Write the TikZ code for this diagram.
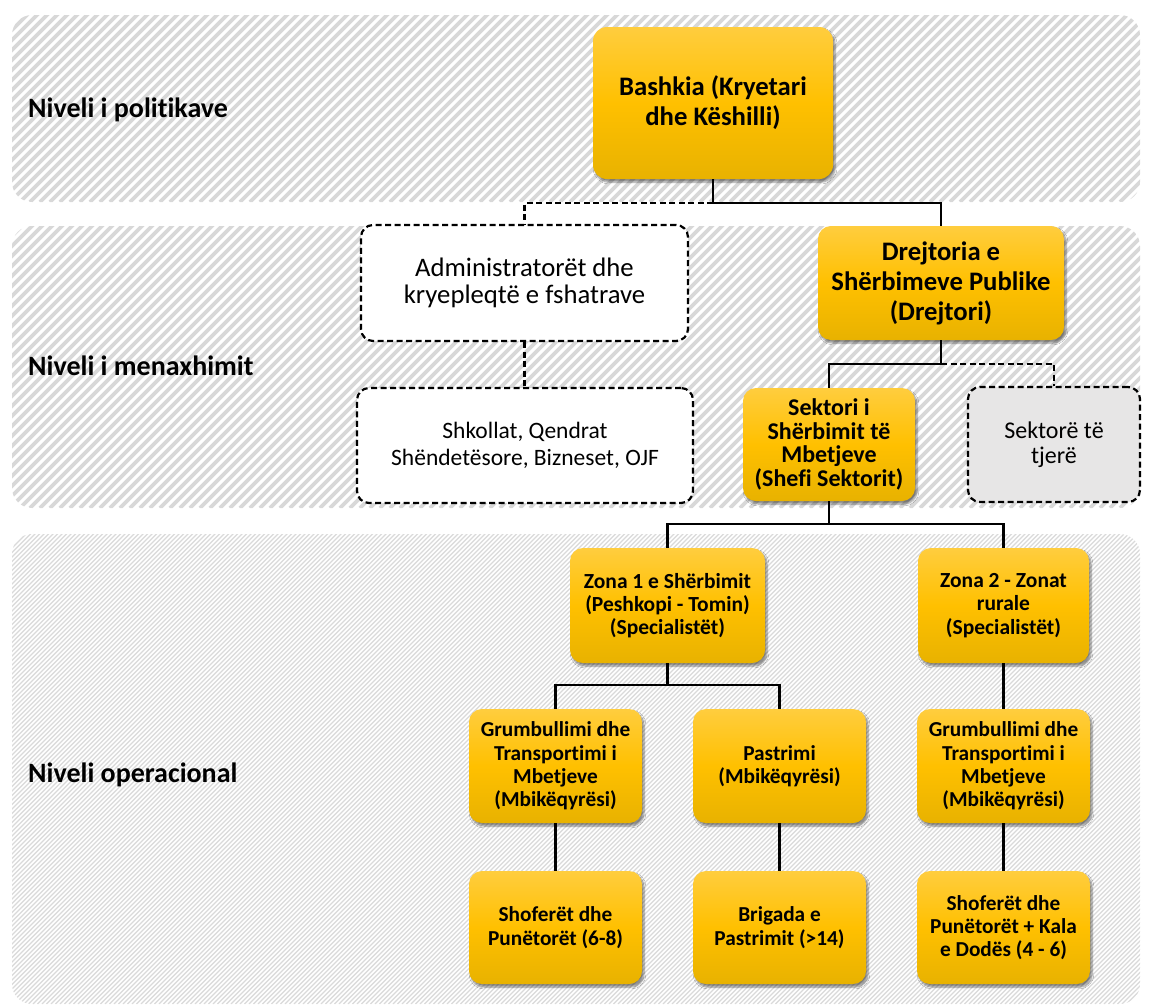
\documentclass[tikz,border=0pt]{standalone}
\usepackage{fontspec}
\setmainfont{Carlito}[Ligatures=NoCommon]
\usetikzlibrary{shadows.blur}
\definecolor{yTop}{RGB}{255,205,62}
\definecolor{yMid}{RGB}{255,192,0}
\definecolor{yBot}{RGB}{232,178,0}
\definecolor{stripeA}{RGB}{216,216,216}
\definecolor{stripeB}{RGB}{218,218,218}
\definecolor{tjereFill}{RGB}{231,230,230}
\tikzset{
  ybox/.style={rounded corners=13pt, inner sep=0pt, align=center, font=\bfseries,
    top color=yTop, bottom color=yBot, middle color=yMid, draw=none,
    blur shadow={shadow xshift=2pt, shadow yshift=-3pt, shadow blur steps=6, shadow opacity=45}},
  dbox/.style={rounded corners=12pt, inner sep=0pt, align=center, fill=white,
    draw=black, line width=2.2pt, dash pattern=on 6pt off 3.5pt},
  conn/.style={draw=black, line width=2.3pt},
  dconn/.style={draw=black, line width=2.3pt, dash pattern=on 6pt off 3.5pt},
  lvl/.style={anchor=base west, inner sep=0pt, font=\bfseries\fontsize{28}{32}\selectfont},
  stripeone/.style={draw=stripeA, line width=3.6pt},
  stripetwo/.style={draw=stripeB, line width=1.3pt},
}
\begin{document}
\begin{tikzpicture}[x=1pt,y=-1pt]
\useasboundingbox (0,0) rectangle (1149,1007);
% level bands
\begin{scope}
  \clip[rounded corners=20pt] (12,15) rectangle (1140,202);
  \fill[white] (12,15) rectangle (1140,202);
  \foreach \i in {-200,-190,...,1150} \draw[stripeone] (\i,202) -- ++(190,-190);
\end{scope}
\begin{scope}
  \clip[rounded corners=20pt] (12,226) rectangle (1140,508);
  \fill[white] (12,226) rectangle (1140,508);
  \foreach \i in {-290,-280,...,1150} \draw[stripeone] (\i,508) -- ++(285,-285);
\end{scope}
\begin{scope}
  \clip[rounded corners=20pt] (12,534) rectangle (1140,1004);
  \fill[white] (12,534) rectangle (1140,1004);
  \foreach \i in {-480,-475.5,...,1150} \draw[stripetwo] (\i,1004) -- ++(472,-472);
\end{scope}
% level labels
\node[lvl] (l1) at (28,117) {Niveli i politikave};
\node[lvl] (l2) at (28,375) {Niveli i menaxhimit};
\node[lvl] (l3) at (28,782) {Niveli operacional};
% boxes
\node[ybox, rounded corners=14pt, minimum width=240pt, minimum height=152pt, font=\bfseries\fontsize{26.7}{30}\selectfont] (bash) at (713,103) {Bashkia (Kryetari\\dhe Këshilli)};
\node[dbox, minimum width=327pt, minimum height=116pt, font=\fontsize{26.7}{26.7}\selectfont] (admin) at (524.5,283) {Administratorët dhe\\kryepleqtë e fshatrave};
\node[dbox, minimum width=336pt, minimum height=115pt, font=\fontsize{23.5}{26.7}\selectfont] (shk) at (525,445.5) {Shkollat, Qendrat\\Shëndetësore, Bizneset, OJF};
\node[ybox, minimum width=246pt, minimum height=114pt, font=\bfseries\fontsize{26.7}{30}\selectfont] (drej) at (941,283) {Drejtoria e\\Shërbimeve Publike\\(Drejtori)};
\node[ybox, minimum width=172pt, minimum height=113pt, font=\bfseries\fontsize{24}{23.5}\selectfont] (sekt) at (829,444.5) {Sektori i\\Shërbimit të\\Mbetjeve\\(Shefi Sektorit)};
\node[dbox, fill=tjereFill, minimum width=172pt, minimum height=115pt, font=\fontsize{24}{25}\selectfont] (tjere) at (1054,444.5) {Sektorë të\\tjerë};
\node[ybox, minimum width=195pt, minimum height=115pt, font=\bfseries\fontsize{21.5}{23.3}\selectfont] (zona1) at (667.5,605.5) {Zona 1 e Shërbimit\\(Peshkopi - Tomin)\\(Specialistët)};
\node[ybox, minimum width=171pt, minimum height=115pt, font=\bfseries\fontsize{21.5}{23.3}\selectfont] (zona2) at (1003.5,605.5) {Zona 2 - Zonat\\rurale\\(Specialistët)};
\node[ybox, minimum width=173pt, minimum height=114pt, font=\bfseries\fontsize{21.3}{23.3}\selectfont] (grum1) at (555.5,766) {Grumbullimi dhe\\Transportimi i\\Mbetjeve\\(Mbikëqyrësi)};
\node[ybox, minimum width=173pt, minimum height=114pt, font=\bfseries\fontsize{21.3}{23.3}\selectfont] (pastr) at (779.5,766) {Pastrimi\\(Mbikëqyrësi)};
\node[ybox, minimum width=173pt, minimum height=114pt, font=\bfseries\fontsize{21.3}{23.3}\selectfont] (grum2) at (1003.5,766) {Grumbullimi dhe\\Transportimi i\\Mbetjeve\\(Mbikëqyrësi)};
\node[ybox, minimum width=173pt, minimum height=113pt, font=\bfseries\fontsize{21.3}{23.3}\selectfont] (shof1) at (555.5,927.5) {Shoferët dhe\\Punëtorët (6-8)};
\node[ybox, minimum width=173pt, minimum height=113pt, font=\bfseries\fontsize{21.3}{23.3}\selectfont] (brig) at (779.5,927.5) {Brigada e\\Pastrimit (>14)};
\node[ybox, minimum width=173pt, minimum height=113pt, font=\bfseries\fontsize{21.3}{23.3}\selectfont] (shof2) at (1003.5,927.5) {Shoferët dhe\\Punëtorët + Kala\\e Dodës (4 - 6)};
% connectors
\draw[conn] (bash.south) -- ++(0,24) -| (drej.north);
\draw[dconn] (bash.south) ++(0,24) -| (admin.north);
\draw[dconn] (admin.south) -- (admin.south |- shk.north);
\draw[conn] (drej.south) -- ++(0,24) -| (sekt.north);
\draw[dconn] (drej.south) ++(0,24) -| (tjere.north);
\draw[conn] (sekt.south) -- ++(0,23) -| (zona1.north);
\draw[conn] (sekt.south) ++(0,23) -| (zona2.north);
\draw[conn] (zona1.south) -- ++(0,22) -| (grum1.north);
\draw[conn] (zona1.south) ++(0,22) -| (pastr.north);
\draw[conn] (zona2.south) -- (grum2.north);
\draw[conn] (grum1.south) -- (shof1.north);
\draw[conn] (pastr.south) -- (brig.north);
\draw[conn] (grum2.south) -- (shof2.north);
\end{tikzpicture}
\end{document}
